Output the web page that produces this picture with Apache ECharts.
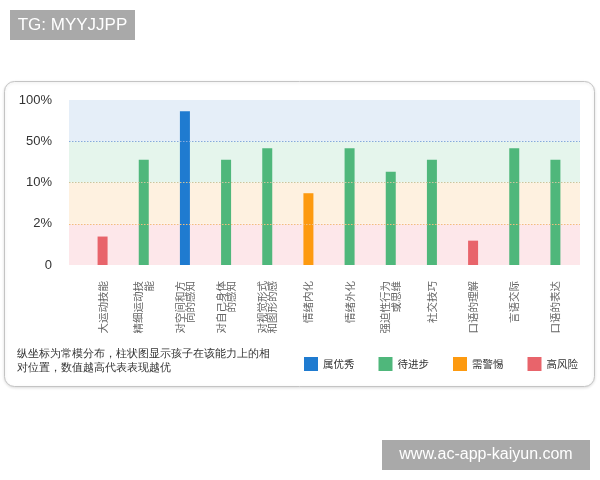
<!DOCTYPE html>
<html>
<head>
<meta charset="utf-8">
<script src="https://cdn.jsdelivr.net/npm/echarts@6/dist/echarts.min.js"></script>
<style>html,body{margin:0;padding:0;background:#fff}#c{width:600px;height:480px}</style>
</head>
<body>
<div id="c"></div>
<script>
// Categories (x axis)
var categories = ['大运动技能','精细运动技\n能','对空间和方\n向的感知','对自己身体\n的感知','对视觉形式\n和图形的感','情绪内化','情绪外化','强迫性行为\n或思维','社交技巧','口语的理解','言语交际','口语的表达'];
// Bar heights in axis units (0..4, one unit per tick step)
var values = [0.69, 2.55, 3.73, 2.55, 2.83, 1.74, 2.83, 2.26, 2.55, 0.59, 2.83, 2.55];
// Level of each bar (index into levelNames)
var levels = [3, 1, 0, 1, 1, 2, 1, 1, 1, 3, 1, 1];
var levelNames = ['属优秀','待进步','需警惕','高风险'];
var levelColors = ['#1f7bd0','#4fb77b','#fd9a10','#e8646b'];
// Y tick labels
var tickLabels = ['0','2%','10%','50%','100%'];
var bandColors = ['#fde7ea','#fef1e0','#e5f5ec','#e5eef8'];
// Dotted threshold lines (axis units) and their colours
var thresholds = [1, 2, 3];
var thresholdColors = ['#f2bf7c','#cdc49c','#86aadc'];
var noteText = '纵坐标为常模分布，柱状图显示孩子在该能力上的相\n对位置，数值越高代表表现越优';

var font = '"Liberation Sans","Noto Sans CJK SC",sans-serif';
var cjk = '"Noto Sans CJK SC",sans-serif';

var series = levelNames.map(function(name, li){
  return {
    name: name, type: 'bar', xAxisIndex: 1, yAxisIndex: 1, stack: 'all',
    barWidth: 10,
    itemStyle: {color: levelColors[li]},
    data: values.map(function(v,i){ return levels[i] === li ? v : '-'; })
  };
});
series.push({
  type: 'line', xAxisIndex: 0, yAxisIndex: 0, data: [], silent: true,
  markLine: {
    silent: true, symbol: 'none', label: {show: false},
    data: thresholds.map(function(t, i){
      return {yAxis: t, lineStyle: {color: thresholdColors[i], type: [1.5,1.5], width: 1}};
    })
  }
});

var chart = echarts.init(document.getElementById('c'), null, {renderer:'canvas'});
chart.setOption({
  animation: false,
  backgroundColor: '#fff',
  grid: [
    {left: 69, right: 20, top: 100, height: 165},
    {left: 82, right: 24, top: 100, height: 165}
  ],
  xAxis: [
    {gridIndex: 0, type: 'value', min: 0, max: 1, show: false},
    {gridIndex: 1, type: 'category', data: categories,
     axisLine: {show: false}, axisTick: {show: false},
     axisLabel: {rotate: 90, margin: 16, fontSize: 10.5, lineHeight: 10.5, color: '#666', fontFamily: cjk, interval: 0}}
  ],
  yAxis: [
    {gridIndex: 0, type: 'value', min: 0, max: 4, interval: 1,
     axisLine: {show: false}, axisTick: {show: false},
     axisLabel: {margin: 17, fontSize: 13, color: '#333', fontFamily: font,
       formatter: function(v){ return tickLabels[Math.round(v)]; }},
     splitArea: {show: true, areaStyle: {color: bandColors}},
     splitLine: {show: false}
    },
    {gridIndex: 1, type: 'value', min: 0, max: 4, interval: 1, show: false, splitLine: {show: false}}
  ],
  legend: {
    left: 299, top: 352, itemWidth: 14, itemHeight: 14, itemGap: 24, icon: 'rect',
    textStyle: {fontSize: 10.5, color: '#333', fontFamily: cjk},
    data: levelNames
  },
  graphic: [
    {type: 'rect', z: -10, shape: {x: 4.5, y: 81.5, width: 590, height: 305, r: 10},
     style: {fill: '#fff', stroke: '#c4c4c4', lineWidth: 1, shadowColor: 'rgba(0,0,0,0.12)', shadowBlur: 3, shadowOffsetY: 1}},
    {type: 'text', left: 17, top: 347, z: 10,
     style: {text: noteText, fontSize: 10.5, lineHeight: 14, fill: '#333', font: '10.5px ' + cjk}},
    {type: 'group', left: 10, top: 10, z: 100, children: [
      {type: 'rect', shape: {x: 0, y: 0, width: 125, height: 30}, style: {fill: '#a9a9a9'}},
      {type: 'text', x: 62.5, y: 15, style: {text: 'TG: MYYJJPP', fill: '#fff', fontSize: 17, fontFamily: font, align: 'center', verticalAlign: 'middle'}}
    ]},
    {type: 'group', left: 382, top: 440, z: 100, children: [
      {type: 'rect', shape: {x: 0, y: 0, width: 208, height: 30}, style: {fill: '#a9a9a9'}},
      {type: 'text', x: 104, y: 15, style: {text: 'www.ac-app-kaiyun.com', fill: '#fff', fontSize: 16, fontFamily: font, align: 'center', verticalAlign: 'middle'}}
    ]}
  ],
  series: series
});
</script>
</body>
</html>
